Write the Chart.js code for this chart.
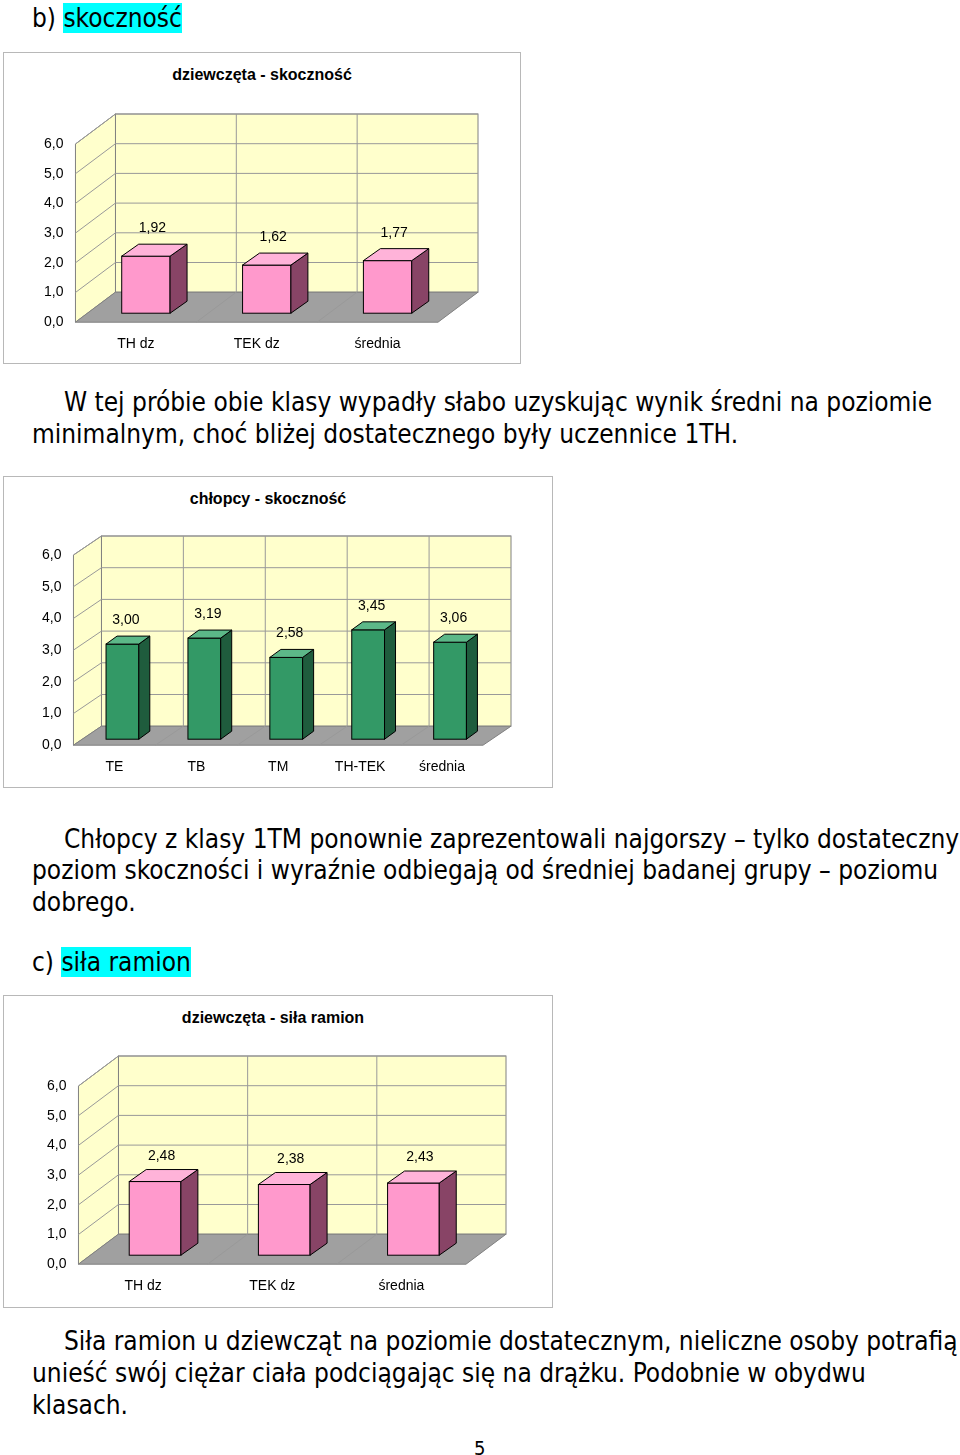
<!DOCTYPE html>
<html><head><meta charset="utf-8">
<script src="https://cdn.jsdelivr.net/npm/chart.js@4/dist/chart.umd.min.js"></script>
<style>
body{margin:0;background:#fff;width:960px;height:1455px;position:relative;overflow:hidden;font-family:"DejaVu Sans Condensed","DejaVu Sans",sans-serif;}
.t{position:absolute;white-space:nowrap;font-size:26px;color:#000;line-height:30px;}
.hl{background:#00FFFF;}
.box{position:absolute;border:1px solid #b8b8b8;background:#fff;}
.box canvas{position:absolute;left:0;top:0;}
.ttl{position:absolute;left:0;right:0;text-align:center;font:bold 16px "Liberation Sans",Arial,sans-serif;}
</style></head><body>

<div class="t" style="left:32px;top:3px">b) <span class="hl">skoczność</span></div>
<div class="box" style="left:3px;top:52px;width:516px;height:310px"><div class="ttl" style="top:13px">dziewczęta - skoczność</div><canvas id="c1" width="516" height="310"></canvas></div>
<div class="t" style="left:64px;top:387px">W tej próbie obie klasy wypadły słabo uzyskując wynik średni na poziomie</div>
<div class="t" style="left:32px;top:419px">minimalnym, choć bliżej dostatecznego były uczennice 1TH.</div>

<div class="box" style="left:3px;top:476px;width:548px;height:310px"><div class="ttl" style="top:13px;right:20px">chłopcy - skoczność</div><canvas id="c2" width="548" height="310"></canvas></div>
<div class="t" style="left:64px;top:824px">Chłopcy z klasy 1TM ponownie zaprezentowali najgorszy – tylko dostateczny</div>
<div class="t" style="left:32px;top:855px">poziom skoczności i wyraźnie odbiegają od średniej badanej grupy – poziomu</div>
<div class="t" style="left:32px;top:887px">dobrego.</div>

<div class="t" style="left:32px;top:947px">c) <span class="hl">siła ramion</span></div>
<div class="box" style="left:3px;top:995px;width:548px;height:311px"><div class="ttl" style="top:13px;right:10px">dziewczęta - siła ramion</div><canvas id="c3" width="548" height="311"></canvas></div>
<div class="t" style="left:64px;top:1326px">Siła ramion u dziewcząt na poziomie dostatecznym, nieliczne osoby potrafią</div>
<div class="t" style="left:32px;top:1358px">unieść swój ciężar ciała podciągając się na drążku. Podobnie w obydwu</div>
<div class="t" style="left:32px;top:1390px">klasach.</div>
<div class="t" style="left:474px;top:1433px;font-size:20px">5</div>

<script>
// ── DANE ───────────────────────────────────────
const kategorieDz = ['TH dz', 'TEK dz', 'średnia'];
const skocznoscDz = [1.92, 1.62, 1.77];
const kategorieCh = ['TE', 'TB', 'TM', 'TH-TEK', 'średnia'];
const skocznoscCh = [3.00, 3.19, 2.58, 3.45, 3.06];
const silaRamionDz = [2.48, 2.38, 2.43];
const yTicks = [0, 1, 2, 3, 4, 5, 6];

const fmt = (v, d) => v.toFixed(d).replace('.', ',');

// ── WYKRES 3D (plugin) ─────────────────────────
// geo: dx/dy = głębokość ścian, ox/oy = przesunięcie słupka, sx/sy = głębokość słupka
function plugin3d(geo, kol) {
  return {
    id: 'p3d',
    beforeDatasetsDraw(chart) {
      const c = chart.ctx, a = chart.chartArea, ys = chart.scales.y;
      const {dx, dy} = geo;
      c.save();
      c.strokeStyle = '#808080'; c.lineWidth = 1;
      // ściana tylna
      c.fillStyle = '#FFFFCC';
      c.fillRect(a.left + dx, a.top - dy, a.right - a.left, a.bottom - a.top);
      c.strokeRect(a.left + dx, a.top - dy, a.right - a.left, a.bottom - a.top);
      // ściana lewa
      c.beginPath();
      c.moveTo(a.left, a.top); c.lineTo(a.left + dx, a.top - dy);
      c.lineTo(a.left + dx, a.bottom - dy); c.lineTo(a.left, a.bottom); c.closePath();
      c.fill(); c.stroke();
      // podłoga
      c.fillStyle = '#A0A0A0';
      c.beginPath();
      c.moveTo(a.left, a.bottom); c.lineTo(a.left + dx, a.bottom - dy);
      c.lineTo(a.right + dx, a.bottom - dy); c.lineTo(a.right, a.bottom); c.closePath();
      c.fill(); c.stroke();
      // linie siatki
      c.strokeStyle = '#999';
      yTicks.forEach(t => {
        const y = ys.getPixelForValue(t);
        if (t === 0) return;
        c.beginPath(); c.moveTo(a.left, y); c.lineTo(a.left + dx, y - dy); c.lineTo(a.right + dx, y - dy); c.stroke();
      });
      const n = chart.data.labels.length, w = (a.right - a.left) / n;
      for (let i = 1; i < n; i++) {
        const x = a.left + i * w;
        c.beginPath(); c.moveTo(x + dx, a.top - dy); c.lineTo(x + dx, a.bottom - dy); c.lineTo(x, a.bottom); c.stroke();
      }
      c.restore();
    },
    afterDatasetsDraw(chart) {
      const c = chart.ctx, meta = chart.getDatasetMeta(0), data = chart.data.datasets[0].data;
      const {ox, oy, sx, sy, lab} = geo;
      c.save();
      c.strokeStyle = '#000'; c.lineWidth = 1;
      meta.data.forEach((b, i) => {
        const l = b.x - b.width / 2 + ox, r = b.x + b.width / 2 + ox, t = b.y - oy, bt = b.base - oy;
        c.fillStyle = kol.front; c.fillRect(l, t, r - l, bt - t); c.strokeRect(l, t, r - l, bt - t);
        c.fillStyle = kol.side;
        c.beginPath(); c.moveTo(r, t); c.lineTo(r + sx, t - sy); c.lineTo(r + sx, bt - sy); c.lineTo(r, bt); c.closePath(); c.fill(); c.stroke();
        c.fillStyle = kol.top;
        c.beginPath(); c.moveTo(l, t); c.lineTo(l + sx, t - sy); c.lineTo(r + sx, t - sy); c.lineTo(r, t); c.closePath(); c.fill(); c.stroke();
        c.fillStyle = '#000'; c.font = '14px "Liberation Sans", Arial'; c.textAlign = 'center';
        c.fillText(fmt(data[i], 2), b.x + ox + sx / 2 - 2, t - lab);
      });
      c.restore();
    }
  };
}

function rysuj(id, etykiety, dane, pad, geo, kol) {
  new Chart(document.getElementById(id), {
    type: 'bar',
    data: { labels: etykiety, datasets: [{ data: dane, backgroundColor: 'rgba(0,0,0,0)', categoryPercentage: 1, barPercentage: 0.4 }] },
    options: {
      responsive: false, animation: false,
      layout: { padding: pad },
      plugins: { legend: { display: false }, tooltip: { enabled: false } },
      scales: {
        y: { min: 0, max: 6, afterBuildTicks: ax => { ax.ticks = yTicks.map(v => ({ value: v })); },
             ticks: { callback: v => fmt(v, 1), color: '#000', font: { family: 'Liberation Sans', size: 14 }, padding: 4 },
             grid: { display: false }, border: { display: false } },
        x: { ticks: { color: '#000', font: { family: 'Liberation Sans', size: 14 }, padding: 6, maxRotation: 0 },
             grid: { display: false }, border: { display: false } }
      }
    },
    plugins: [plugin3d(geo, kol)]
  });
}

const rozowy = { front: '#FF99CC', side: '#884466', top: '#FFB3D9' };
const zielony = { front: '#339966', side: '#1F5C3D', top: '#5CB888' };

rysuj('c1', kategorieDz, skocznoscDz, { left: 36, top: 91, right: 82, bottom: 4 },
  { dx: 40, dy: 30, ox: 10, oy: 9, sx: 17, sy: 12, lab: 24 }, rozowy);
rysuj('c2', kategorieCh, skocznoscCh, { left: 34, top: 78, right: 69, bottom: 5 },
  { dx: 28, dy: 19, ox: 8, oy: 6, sx: 11, sy: 8, lab: 20 }, zielony);
rysuj('c3', kategorieDz, silaRamionDz, { left: 39, top: 90, right: 86, bottom: 6 },
  { dx: 40, dy: 30, ox: 12, oy: 9, sx: 17, sy: 12, lab: 22 }, rozowy);
</script>
</body></html>
